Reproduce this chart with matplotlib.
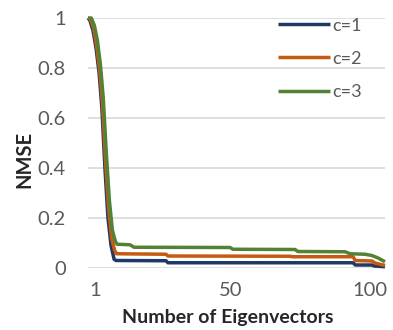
import matplotlib
matplotlib.use("Agg")
import matplotlib.pyplot as plt

# values (x in axis units, 1..100 labelled)
x_c1 = [-1.5, -0.8, 0.3, 1.4, 2.5, 3.5, 4.6, 5.7, 6.8, 7.9, 8.6, 26.6, 27.3, 94.0, 94.8, 100.8, 101.6, 105.5]
y_c1 = [1.0, 0.99, 0.95, 0.88, 0.78, 0.64, 0.40, 0.20, 0.09, 0.035, 0.03, 0.029, 0.021, 0.021, 0.012, 0.012, 0.008, 0.005]

x_c2 = [-1.5, -0.6, 0.5, 1.6, 2.7, 3.7, 4.8, 5.9, 7.0, 8.1, 8.8, 26.6, 27.3, 71.3, 72.3, 94.0, 94.8, 100.8, 101.9, 105.5]
y_c2 = [1.0, 0.995, 0.96, 0.89, 0.79, 0.66, 0.43, 0.24, 0.12, 0.07, 0.057, 0.055, 0.048, 0.047, 0.045, 0.045, 0.030, 0.028, 0.02, 0.01]

x_c3 = [-1.5, -0.3, 0.8, 1.9, 3.0, 4.0, 5.1, 6.2, 7.3, 8.4, 9.0, 13.6, 15.1, 49.7, 50.7, 73.1, 74.1, 91.1, 92.9, 98.3, 100.8, 103.0, 105.5]
y_c3 = [1.0, 1.0, 0.97, 0.91, 0.81, 0.68, 0.46, 0.27, 0.15, 0.105, 0.095, 0.093, 0.083, 0.082, 0.075, 0.074, 0.066, 0.065, 0.057, 0.055, 0.05, 0.04, 0.025]

series = [("c=1", x_c1, y_c1, "#203864"),
          ("c=2", x_c2, y_c2, "#C55A11"),
          ("c=3", x_c3, y_c3, "#548235")]

x_ticks = [1, 50, 100]
y_ticks = [0, 0.2, 0.4, 0.6, 0.8, 1]
y_tick_labels = ["0", "0.2", "0.4", "0.6", "0.8", "1"]

plt.rcParams['font.family'] = ['Lato', 'DejaVu Sans']

fig = plt.figure(figsize=(3.93, 3.30), dpi=100)
ax = fig.add_axes([88 / 393, 1 - 268 / 330, 297 / 393, 250 / 330])

for label, xs, ys, col in series:
    ax.plot(xs, ys, color=col, lw=2.5, label=label, clip_on=False, solid_capstyle='butt')

ax.set_xlim(-1.5, 105.5)
ax.set_ylim(0, 1)
ax.set_xticks(x_ticks)
ax.set_yticks(y_ticks)
ax.set_yticklabels(y_tick_labels)
ax.tick_params(axis='both', length=0, labelsize=14.5, labelcolor='#595959')
ax.tick_params(axis='y', pad=16)
ax.tick_params(axis='x', pad=10)

ax.grid(axis='y', color='#D9D9D9', lw=1.2)
ax.set_axisbelow(True)
for s in ax.spines.values():
    s.set_visible(False)

ax.set_xlabel("Number of Eigenvectors", fontsize=14, fontweight='bold', color='#262626')
ax.set_ylabel("NMSE", fontsize=14.5, fontweight='bold', color='#262626')
ax.xaxis.set_label_coords((228 - 88) / 297, (268 - 317) / 250)
ax.xaxis.label.set_va('center')
ax.yaxis.set_label_coords((24 - 88) / 297, (268 - 159) / 250)
ax.yaxis.label.set_va('center')

leg = ax.legend(loc='upper left', bbox_to_anchor=(274 / 393, 1 - 14 / 330),
                bbox_transform=fig.transFigure, frameon=False, fontsize=13,
                handlelength=2.9, handletextpad=0.15, labelspacing=0.95,
                borderpad=0.2, borderaxespad=0)
for t in leg.get_texts():
    t.set_color('#595959')

fig.savefig("out.png", dpi=100)
